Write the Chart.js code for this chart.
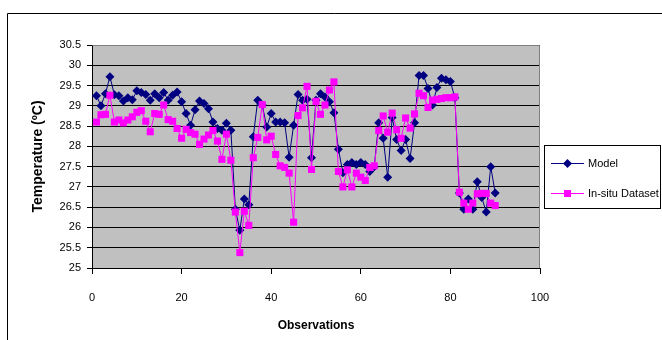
<!DOCTYPE html>
<html>
<head>
<meta charset="utf-8">
<script src="https://cdn.jsdelivr.net/npm/chart.js@4"></script>
<style>
html, body { margin: 0; padding: 0; background: #fff; }
#marco { width: 662px; height: 340px; }
</style>
</head>
<body>
<div id="marco"><canvas id="graficoLineas" width="662" height="340"></canvas></div>
<script>
// datos
const observaciones = [1,2,3,4,5,6,7,8,9,10,11,12,13,14,15,16,17,18,19,20,
    21,22,23,24,25,26,27,28,29,30,31,32,33,34,35,36,37,38,39,40,
    41,42,43,44,45,46,47,48,49,50,51,52,53,54,55,56,57,58,59,60,
    61,62,63,64,65,66,67,68,69,70,71,72,73,74,75,76,77,78,79,80,
    81,82,83,84,85,86,87,88,89,90];

const modelo = [29.25,29.0,29.3,29.72,29.27,29.25,29.12,29.2,29.15,29.37,
    29.33,29.28,29.14,29.3,29.2,29.33,29.14,29.26,29.34,29.1,
    28.81,28.52,28.9,29.12,29.06,28.93,28.6,28.44,28.4,28.57,
    28.4,26.45,25.93,26.7,26.56,28.24,29.14,29.02,28.48,28.81,
    28.6,28.6,28.58,27.73,28.52,29.28,29.14,29.16,27.72,29.14,
    29.3,29.22,29.1,28.83,27.93,27.35,27.55,27.6,27.55,27.6,
    27.55,27.38,27.5,28.58,28.2,27.24,28.71,28.17,27.9,28.17,
    27.7,28.58,29.75,29.75,29.43,29.02,29.45,29.68,29.64,29.6,
    29.2,26.85,26.45,26.7,26.45,27.13,26.74,26.38,27.5,26.85];

const insitu = [28.6,28.78,28.79,29.26,28.6,28.65,28.58,28.65,28.73,28.84,
    28.88,28.62,28.36,28.81,28.79,29.02,28.66,28.62,28.44,28.2,
    28.42,28.34,28.3,28.05,28.18,28.28,28.39,28.13,27.68,28.3,
    27.66,26.38,25.38,26.4,26.05,27.72,28.22,29.03,28.16,28.25,
    27.8,27.52,27.48,27.34,26.13,28.76,28.95,29.48,27.43,29.11,
    28.79,29.02,29.39,29.59,27.38,27.0,27.42,27.0,27.34,27.24,
    27.16,27.48,27.52,28.39,28.75,28.35,28.82,28.41,28.2,28.7,
    28.45,28.8,29.31,29.25,28.96,29.14,29.16,29.18,29.2,29.2,
    29.22,26.87,26.6,26.45,26.6,26.83,26.84,26.84,26.6,26.54];

const ticksX = [0, 20, 40, 60, 80, 100];
const ticksY = [25, 25.5, 26, 26.5, 27, 27.5, 28, 28.5, 29, 29.5, 30, 30.5];

const fuente = '"Liberation Sans", Arial, sans-serif';
const azul = '#000080';
const rosa = '#FF00FF';

const puntos = (valores) => observaciones.map((x, i) => ({x: x, y: valores[i]}));

// fondo gris, borde exterior y leyenda
const decorado = {
    id: 'decorado',
    beforeDraw(chart) {
        const ctx = chart.ctx;
        const a = chart.chartArea;
        ctx.save();
        ctx.fillStyle = '#fff';
        ctx.fillRect(0, 0, chart.width, chart.height);
        ctx.strokeStyle = '#000';
        ctx.lineWidth = 1;
        ctx.beginPath();
        ctx.moveTo(7.5, chart.height);
        ctx.lineTo(7.5, 13.5);
        ctx.lineTo(chart.width, 13.5);
        ctx.stroke();
        ctx.fillStyle = '#C0C0C0';
        ctx.fillRect(a.left, a.top, a.right - a.left, a.bottom - a.top);
        ctx.restore();
    },
    beforeDatasetsDraw(chart) {
        const ctx = chart.ctx;
        const a = chart.chartArea;
        ctx.save();
        ctx.strokeStyle = '#808080';
        ctx.lineWidth = 1;
        ctx.beginPath();
        ctx.moveTo(Math.round(a.left) + 0.5, Math.round(a.top) + 0.5);
        ctx.lineTo(Math.round(a.right) - 0.5, Math.round(a.top) + 0.5);
        ctx.lineTo(Math.round(a.right) - 0.5, Math.round(a.bottom));
        ctx.stroke();
        ctx.restore();
    },
    afterDraw(chart) {
        const ctx = chart.ctx;
        ctx.save();
        ctx.strokeStyle = '#000';
        ctx.lineWidth = 1;
        ctx.strokeRect(544.5, 145.5, 116, 63);
        const items = [
            {texto: 'Model', color: azul, forma: 'rectRot', radio: 4.5, y: 163},
            {texto: 'In-situ Dataset', color: rosa, forma: 'rect', radio: 5, y: 193}
        ];
        items.forEach(it => {
            ctx.strokeStyle = it.color;
            ctx.beginPath();
            ctx.moveTo(551, it.y + 0.5);
            ctx.lineTo(584, it.y + 0.5);
            ctx.stroke();
            ctx.fillStyle = it.color;
            Chart.helpers.drawPoint(ctx, {pointStyle: it.forma, radius: it.radio, borderWidth: 0}, 567.5, it.y + 0.5);
            ctx.fillStyle = '#000';
            ctx.font = '11px ' + fuente;
            ctx.textBaseline = 'middle';
            ctx.textAlign = 'left';
            ctx.fillText(it.texto, 588, it.y + 1);
        });
        ctx.restore();
    }
};

new Chart(document.querySelector('#graficoLineas'), {
    type: 'scatter',
    data: {
        datasets: [
            {
                label: 'Model',
                data: puntos(modelo),
                showLine: true,
                borderColor: azul,
                backgroundColor: azul,
                borderWidth: 1,
                pointStyle: 'rectRot',
                pointRadius: 4.5,
                pointBorderWidth: 0,
                order: 2
            },
            {
                label: 'In-situ Dataset',
                data: puntos(insitu),
                showLine: true,
                borderColor: rosa,
                backgroundColor: rosa,
                borderWidth: 1,
                pointStyle: 'rect',
                pointRadius: 5,
                pointBorderWidth: 0,
                order: 1
            }
        ]
    },
    options: {
        responsive: false,
        animation: false,
        devicePixelRatio: 1,
        layout: {padding: {left: 0, top: 45, right: 122, bottom: 0}},
        plugins: {legend: {display: false}, tooltip: {enabled: false}},
        scales: {
            x: {
                type: 'linear',
                min: 0,
                max: 100,
                afterBuildTicks: (s) => { s.ticks = ticksX.map(v => ({value: v})); },
                afterFit: (s) => { s.height = 72; },
                grid: {drawOnChartArea: false, drawTicks: true, tickLength: 6, color: '#000'},
                border: {color: '#000', width: 1},
                ticks: {color: '#000', padding: 17, font: {family: fuente, size: 11}, maxRotation: 0,
                    callback: (v) => String(v)},
                title: {display: true, text: 'Observations', color: '#000',
                    font: {family: fuente, size: 12, weight: 'bold'}, padding: {top: 0, bottom: 7}}
            },
            y: {
                type: 'linear',
                min: 25,
                max: 30.5,
                afterBuildTicks: (s) => { s.ticks = ticksY.map(v => ({value: v})); },
                afterFit: (s) => { s.width = 92; },
                grid: {color: '#000', lineWidth: 1, drawTicks: true, tickLength: 5},
                border: {color: '#000', width: 1},
                ticks: {color: '#000', padding: 6, font: {family: fuente, size: 11},
                    callback: (v) => String(v)},
                title: {display: true, text: 'Temperature (ºC)', color: '#000',
                    font: {family: fuente, size: 14, weight: 'bold'}, padding: {top: 30, bottom: 0}}
            }
        }
    },
    plugins: [decorado]
});
</script>
</body>
</html>
